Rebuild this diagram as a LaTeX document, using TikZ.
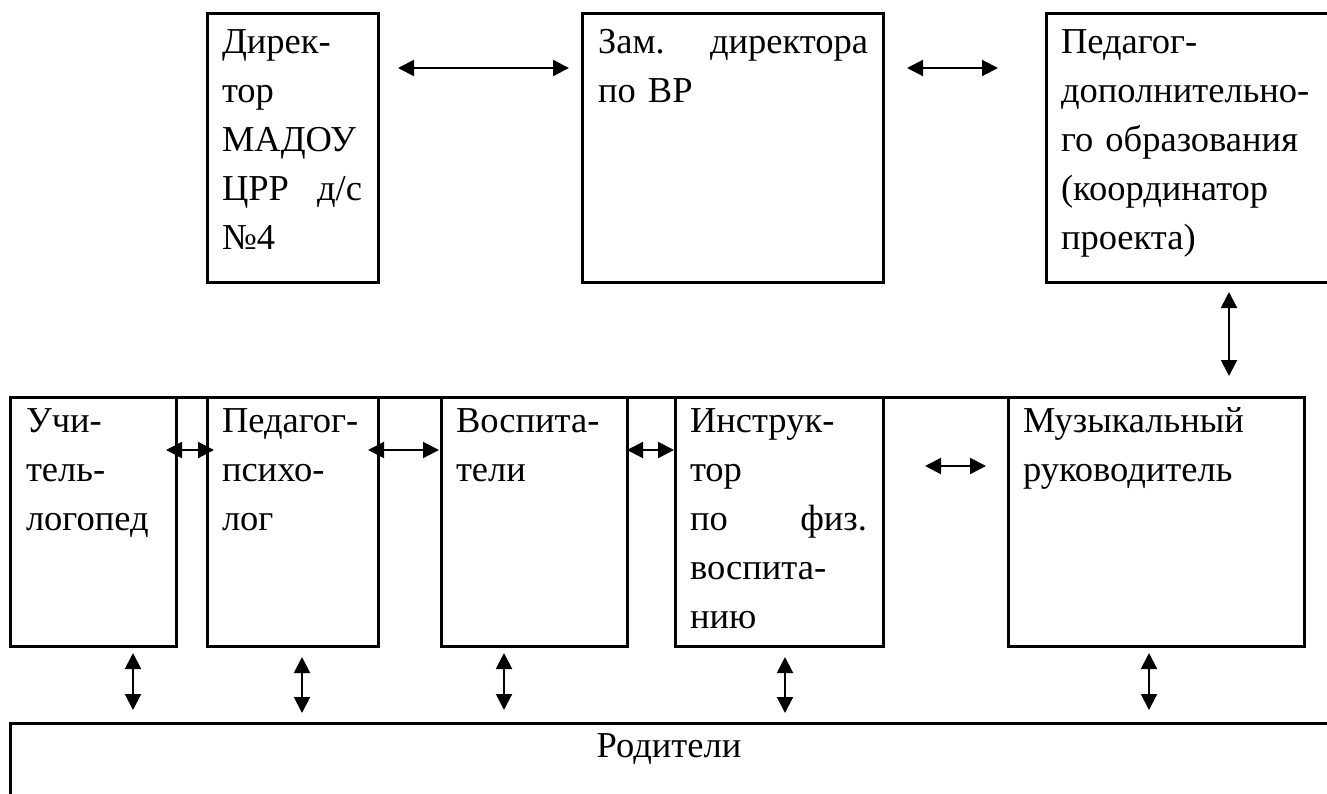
\documentclass[tikz,border=0pt]{standalone}
\usepackage{fontspec}
\setmainfont{Liberation Serif}
\usetikzlibrary{arrows.meta,calc}
\begin{document}
\begin{tikzpicture}[x=1pt,y=-1pt,
  box/.style={draw,line width=3pt,rectangle,inner sep=0pt,outer sep=0pt,anchor=north west},
  txt/.style={anchor=base west,inner sep=0pt,outer sep=0pt,align=left,
    font=\fontsize{36.5}{49}\selectfont},
  arr/.style={line width=2pt,{Triangle[length=16pt,width=16pt]}-{Triangle[length=16pt,width=16pt]}}
]
\useasboundingbox (0,0) rectangle (1327,793);
% top row
\node[box,minimum width=171pt,minimum height=269pt] (dir) at (207,13) {};
\node[box,minimum width=301pt,minimum height=269pt] (zam) at (582,13) {};
\node[box,minimum width=320pt,minimum height=269pt] (ped) at (1046,13) {};
% middle row
\node[box,minimum width=166pt,minimum height=249pt] (uch) at (10,397) {};
\node[box,minimum width=171pt,minimum height=249pt] (psy) at (207,397) {};
\node[box,minimum width=186pt,minimum height=249pt] (vos) at (441,397) {};
\node[box,minimum width=208pt,minimum height=249pt] (ins) at (675,397) {};
\node[box,minimum width=296pt,minimum height=249pt] (muz) at (1008,397) {};
\draw[line width=3pt] (uch.north west) -- (muz.north east);
% bottom
\node[box,minimum width=1360pt,minimum height=200pt] (rod) at (10,723) {};
% texts
\node[txt,text width=140pt] (dirt) at ($(dir.north west)+(15,40)$) {Дирек-\\тор\\МАДОУ\\ЦРР\hfill д/с\\№4};
\node[txt,text width=270pt] (zamt) at ($(zam.north west)+(16,40)$) {Зам.\hfill директора\\по ВР};
\node[txt,text width=275pt] (pedt) at ($(ped.north west)+(15,40)$) {Педагог-\\дополнительно-\\го образования\\(координатор\\проекта)};
\node[txt,text width=135pt] (ucht) at ($(uch.north west)+(16,35)$) {Учи-\\тель-\\логопед};
\node[txt,text width=140pt] (psyt) at ($(psy.north west)+(15,35)$) {Педагог-\\психо-\\лог};
\node[txt,text width=155pt] (vost) at ($(vos.north west)+(15,35)$) {Воспита-\\тели};
\node[txt,text width=177pt] (inst) at ($(ins.north west)+(15,35)$) {Инструк-\\тор\\по\hfill физ.\\воспита-\\нию};
\node[txt,text width=265pt] (muzt) at ($(muz.north west)+(15,35)$) {Музыкальный\\руководитель};
\node[anchor=base,inner sep=0pt,font=\fontsize{36.5}{49}\selectfont] (rodt) at (669,757) {Родители};
% top arrows
\draw[arr] ($(dir.north east)+(20,55)$) -- ($(zam.north west)+(-13,55)$);
\draw[arr] ($(zam.north east)+(24,55)$) -- ($(ped.north west)+(-48,55)$);
\draw[arr] ($(ped.south west)+(183,10)$) -- ($(muz.north west)+(221,-21)$);
% middle arrows
\draw[arr] ($(uch.north east)+(-10,53)$) -- ($(psy.north west)+(7,53)$);
\draw[arr] ($(psy.north east)+(-10,53)$) -- ($(vos.north west)+(-2,53)$);
\draw[arr] ($(vos.north east)+(0,53)$) -- ($(ins.north west)+(-1,53)$);
\draw[arr] ($(ins.north east)+(42,69)$) -- ($(muz.north west)+(-22,69)$);
% bottom arrows
\draw[arr] ($(uch.south west)+(123,7)$) -- ($(rod.north west)+(123,-13)$);
\draw[arr] ($(psy.south west)+(95,11)$) -- ($(rod.north west)+(292,-10)$);
\draw[arr] ($(vos.south west)+(63,7)$) -- ($(rod.north west)+(494,-13)$);
\draw[arr] ($(ins.south west)+(110,11)$) -- ($(rod.north west)+(775,-10)$);
\draw[arr] ($(muz.south west)+(141,7)$) -- ($(rod.north west)+(1139,-13)$);
\end{tikzpicture}
\end{document}
